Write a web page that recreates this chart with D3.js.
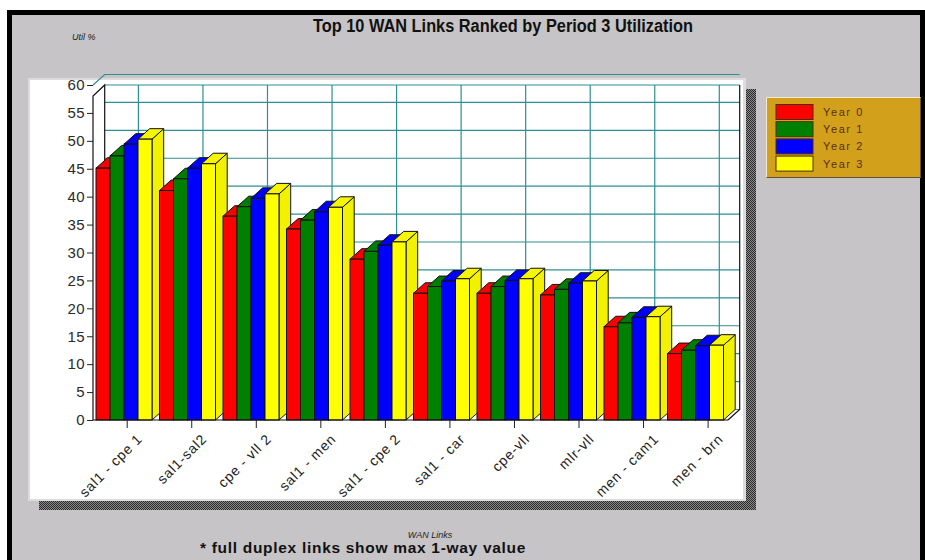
<!DOCTYPE html>
<html>
<head>
<meta charset="utf-8">
<script src="https://cdn.jsdelivr.net/npm/d3@7"></script>
<style>
  html, body { margin: 0; padding: 0; background: #ffffff; }
  svg { display: block; }
</style>
</head>
<body>
<svg id="chart" width="925" height="560"></svg>
<script>
// Link names, in ranked order
const categories = ["sal1 - cpe 1", "sal1-sal2", "cpe - vll 2", "sal1 - men", "sal1 - cpe 2",
                    "sal1 - car", "cpe-vll", "mlr-vll", "men - cam1", "men - brn"];
const seriesNames = ["Year 0", "Year 1", "Year 2", "Year 3"];
// Utilization (%) per year for each link
const year0 = [45.1, 41.1, 36.5, 34.2, 28.8, 22.7, 22.7, 22.4, 16.7, 11.9];
const year1 = [47.3, 43.2, 38.2, 35.8, 30.2, 23.9, 23.9, 23.4, 17.4, 12.5];
const year2 = [49.4, 45.1, 39.7, 37.3, 31.3, 24.9, 25.0, 24.5, 18.4, 13.3];
const year3 = [50.3, 45.9, 40.5, 38.1, 31.9, 25.3, 25.3, 24.9, 18.5, 13.4];
const yTicks = [0, 5, 10, 15, 20, 25, 30, 35, 40, 45, 50, 55, 60];
const seriesColors = ["#ff0000", "#008000", "#0000ff", "#ffff00"];

const seriesValues = [year0, year1, year2, year3];

const svg = d3.select("#chart");
const sans = "'Liberation Sans', Arial, sans-serif";

// checkered drop shadow
const defs = svg.append("defs");
const pat = defs.append("pattern").attr("id", "dither").attr("width", 2).attr("height", 2)
  .attr("patternUnits", "userSpaceOnUse");
pat.append("rect").attr("width", 2).attr("height", 2).attr("fill", "#8a8a8a");
pat.append("rect").attr("width", 1).attr("height", 1).attr("fill", "#2a2a2a");
pat.append("rect").attr("x", 1).attr("y", 1).attr("width", 1).attr("height", 1).attr("fill", "#2a2a2a");

// window background and frame
svg.append("rect").attr("x", 7).attr("y", 10).attr("width", 925).attr("height", 560).attr("fill", "#000");
svg.append("rect").attr("x", 12).attr("y", 15).attr("width", 908).attr("height", 560).attr("fill", "#c6c4c7");

// title and axis captions
svg.append("text").attr("x", 503).attr("y", 32).attr("text-anchor", "middle")
  .attr("font-family", sans).attr("font-weight", "bold").attr("font-size", 17.5).attr("fill", "#111")
  .attr("textLength", 380).attr("lengthAdjust", "spacingAndGlyphs")
  .text("Top 10 WAN Links Ranked by Period 3 Utilization");
svg.append("text").attr("x", 72).attr("y", 40)
  .attr("font-family", sans).attr("font-style", "italic")
  .attr("font-size", 9).attr("fill", "#222").text("Util %");

// plot panel with shadow
svg.append("rect").attr("x", 39).attr("y", 89).attr("width", 717).attr("height", 421).attr("fill", "url(#dither)");
svg.append("rect").attr("x", 28).attr("y", 78).attr("width", 718).attr("height", 423).attr("fill", "#dcdcdc");
svg.append("rect").attr("x", 30).attr("y", 80).attr("width", 713).attr("height", 419).attr("fill", "#ffffff");

// scales
const y = d3.scaleLinear().domain([0, 60]).range([420, 85]);
const x = d3.scaleBand().domain(categories).range([93, 728]);
const xs = d3.scaleBand().domain(seriesNames).range([0, 56]);
const xTick = d3.scalePoint().domain(categories).range([126.7, 707.6]);
const dx = 11.7, dy = 10.5;
const x0 = 93, x1 = 728;

const grid = "#2f8f92";
const g = svg.append("g");

// back wall grid
g.selectAll("line.hgrid").data(yTicks.filter(v => v < 60)).join("line")
  .attr("x1", x0 + dx).attr("x2", x1 + dx)
  .attr("y1", d => y(d) - dy).attr("y2", d => y(d) - dy)
  .attr("stroke", grid).attr("stroke-width", 1.2);
g.append("line").attr("x1", x0 + dx).attr("x2", x1 + dx).attr("y1", 85).attr("y2", 85)
  .attr("stroke", grid).attr("stroke-width", 1.2);
g.selectAll("line.vgrid").data(categories).join("line")
  .attr("x1", d => xTick(d) + dx).attr("x2", d => xTick(d) + dx)
  .attr("y1", 85).attr("y2", y(0) - dy)
  .attr("stroke", grid).attr("stroke-width", 1.2);
// top level (60) runs out above the wall
g.append("path")
  .attr("d", `M${x0},${y(60)}L${x0 + dx},${y(60) - dy}L${x1 + dx},${y(60) - dy}`)
  .attr("fill", "none").attr("stroke", grid).attr("stroke-width", 1.2);

// wall outline
g.append("path")
  .attr("d", `M${x0},${y(0)}L${x0},96L${x0 + dx},85L${x0 + dx},${y(0) - dy}`)
  .attr("fill", "none").attr("stroke", "#111").attr("stroke-width", 1.2);
g.append("path")
  .attr("d", `M${x1 + dx},85L${x1 + dx},${y(0) - dy}L${x1},${y(0)}`)
  .attr("fill", "none").attr("stroke", "#111").attr("stroke-width", 1.2);

// y axis
const yAxis = d3.axisLeft(y).tickValues(yTicks).tickSize(6).tickPadding(2);
const ya = svg.append("g").attr("transform", `translate(${x0},0)`).call(yAxis);
ya.select(".domain").remove();
ya.selectAll(".tick line").attr("stroke", "#222");
ya.selectAll(".tick text").attr("font-family", sans)
  .attr("font-size", 15).attr("fill", "#2a2a2a").attr("letter-spacing", 0.4);

// 3D bars
const bars = g.append("g");
categories.forEach((c, ci) => {
  seriesValues.forEach((vals, si) => {
    const v = vals[ci];
    const bx = x(c) + 3 + xs(seriesNames[si]);
    const bw = xs.bandwidth();
    const top = y(v), base = y(0);
    const col = seriesColors[si];
    const bg = bars.append("g");
    bg.append("path")
      .attr("d", `M${bx + bw},${base}L${bx + bw + dx},${base - dy}L${bx + bw + dx},${top - dy}L${bx + bw},${top}Z`)
      .attr("fill", d3.color(col).darker(0.15)).attr("stroke", "#111").attr("stroke-width", 1);
    bg.append("path")
      .attr("d", `M${bx},${top}L${bx + dx},${top - dy}L${bx + bw + dx},${top - dy}L${bx + bw},${top}Z`)
      .attr("fill", d3.color(col).darker(0.1)).attr("stroke", "#111").attr("stroke-width", 1);
    bg.append("rect").attr("x", bx).attr("y", top).attr("width", bw).attr("height", base - top)
      .attr("fill", col).attr("stroke", "#111").attr("stroke-width", 1);
  });
});

// front baseline
g.append("line").attr("x1", x0).attr("x2", x1).attr("y1", y(0)).attr("y2", y(0))
  .attr("stroke", "#111").attr("stroke-width", 1.2);

// x axis
const xAxis = d3.axisBottom(xTick).tickSize(8).tickFormat(d => d);
const xa = svg.append("g").attr("transform", `translate(0,${y(0)})`).call(xAxis);
xa.select(".domain").remove();
xa.selectAll(".tick line").attr("stroke", "#222");
xa.selectAll(".tick text")
  .attr("font-family", sans).attr("font-size", 14).attr("letter-spacing", 0.8)
  .attr("fill", "#222")
  .attr("text-anchor", "end")
  .attr("transform", "translate(9,13) rotate(-45)")
  .attr("y", 0).attr("dy", "0.7em");

// legend
const lg = svg.append("g").attr("transform", "translate(766,97)");
lg.append("rect").attr("width", 155).attr("height", 81).attr("fill", "#d3a01c");
lg.append("path").attr("d", "M0.5,80.5V0.5H154.5").attr("fill", "none").attr("stroke", "#f3ead2");
lg.append("path").attr("d", "M0.5,80.5H154.5V0.5").attr("fill", "none").attr("stroke", "#5e5440");
const items = lg.selectAll("g.item").data(seriesNames).join("g")
  .attr("transform", (d, i) => `translate(10,${7.5 + i * 17.2})`);
items.append("rect").attr("width", 37).attr("height", 15)
  .attr("fill", (d, i) => seriesColors[i]).attr("stroke", "#4b2e08").attr("stroke-width", 1);
items.append("text").attr("x", 47).attr("y", 11.5)
  .attr("font-family", sans).attr("font-size", 11)
  .attr("letter-spacing", 1.6).attr("fill", "#5a2e14").text(d => d);

// footer captions
svg.append("text").attr("x", 430).attr("y", 538).attr("text-anchor", "middle")
  .attr("font-family", sans).attr("font-style", "italic")
  .attr("font-size", 9).attr("fill", "#222").text("WAN Links");
svg.append("text").attr("x", 200).attr("y", 553)
  .attr("font-family", sans).attr("font-weight", "bold").attr("letter-spacing", 0.7)
  .attr("font-size", 15.5).attr("fill", "#111").text("* full duplex links show max 1-way value");
</script>
</body>
</html>
